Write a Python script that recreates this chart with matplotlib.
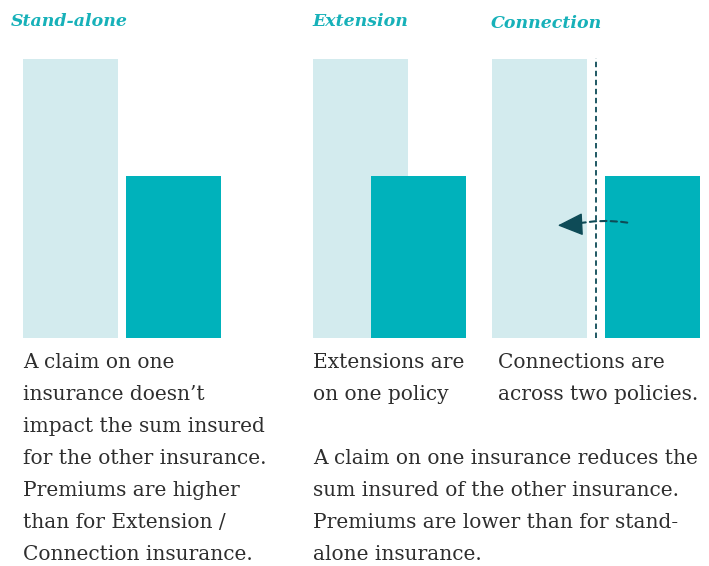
import matplotlib.pyplot as plt
from matplotlib.patches import FancyArrowPatch

# panel titles and bar values (light = full sum insured, dark = the other insurance)
titles = ['Stand-alone', 'Extension', 'Connection']
light_vals = [100, 100, 100]
dark_vals = [58, 58, 58]

# bar offsets of the dark bar, in bar widths
dark_offsets = [1.084, 0.61, 1.19]

captions = [
    ['A claim on one', 'insurance doesn\u2019t', 'impact the sum insured',
     'for the other insurance.', 'Premiums are higher',
     'than for Extension /', 'Connection insurance.'],
    ['Extensions are', 'on one policy'],
    ['Connections are', 'across two policies.'],
]
shared_caption = ['A claim on one insurance reduces the',
                  'sum insured of the other insurance.',
                  'Premiums are lower than for stand-',
                  'alone insurance.']

LIGHT = '#d3ebee'
DARK = '#00b2bb'
TITLE = '#17b1b9'
TEXT = '#2e2e2e'
ARROW = '#0e4b57'

W, H = 709, 566
fig = plt.figure(figsize=(W / 100, H / 100), dpi=100)

def fx(px):
    return px / W

def fy(py):
    return 1 - py / H

bar_px = 95
lefts = [23, 313, 492]
bottom_px, top_px = 338, 59

axes = []
for i in range(3):
    width_units = dark_offsets[i] + 1
    ax = fig.add_axes([fx(lefts[i]), fy(bottom_px),
                       width_units * bar_px / W, (bottom_px - top_px) / H])
    ax.bar(0, light_vals[i], width=1, align='edge', color=LIGHT, zorder=1)
    ax.bar(dark_offsets[i], dark_vals[i], width=1, align='edge', color=DARK, zorder=2)
    ax.set_xlim(0, width_units)
    ax.set_ylim(0, 100)
    ax.axis('off')
    axes.append(ax)

# titles
title_pos = [(11, 22), (312, 22), (491, 24)]
for t, (x, y) in zip(titles, title_pos):
    fig.text(fx(x), fy(y), t, color=TITLE, fontsize=12.5, fontweight='bold',
             fontstyle='italic', family='DejaVu Serif', va='center', ha='left')

# connection panel: dashed divider and claim arrow
ax3 = axes[2]
div_x = 1 + (596 - 587) / bar_px
ax3.plot([div_x, div_x], [0, 100.5], color=ARROW, lw=1.3, ls=(0, (3, 2)),
         clip_on=False, zorder=3)

# dashed curved shaft, then a solid head at its end
start = (1 + (630 - 587) / bar_px, 41.2)
neck = ((572 - 492) / bar_px, 40.6)
tip = ((555 - 492) / bar_px, 40.3)
shaft = FancyArrowPatch(start, neck, arrowstyle='-',
                        connectionstyle='arc3,rad=0.1', color=ARROW,
                        lw=1.5, ls=(0, (3, 2)), zorder=4)
ax3.add_patch(shaft)
head = FancyArrowPatch(neck, tip, arrowstyle='-|>,head_length=1.0,head_width=0.45',
                       color=ARROW, lw=1, mutation_scale=16, zorder=4)
ax3.add_patch(head)

# captions
line_h = 32
cap_pos = [(23, 362), (313, 362), (498, 362)]
for lines, (x, y) in zip(captions, cap_pos):
    for k, line in enumerate(lines):
        fig.text(fx(x), fy(y + k * line_h), line, color=TEXT, fontsize=14.5,
                 family='DejaVu Serif', va='center', ha='left')
for k, line in enumerate(shared_caption):
    fig.text(fx(313), fy(458 + k * line_h), line, color=TEXT, fontsize=14.5,
             family='DejaVu Serif', va='center', ha='left')

fig.savefig('out.png', dpi=100)
